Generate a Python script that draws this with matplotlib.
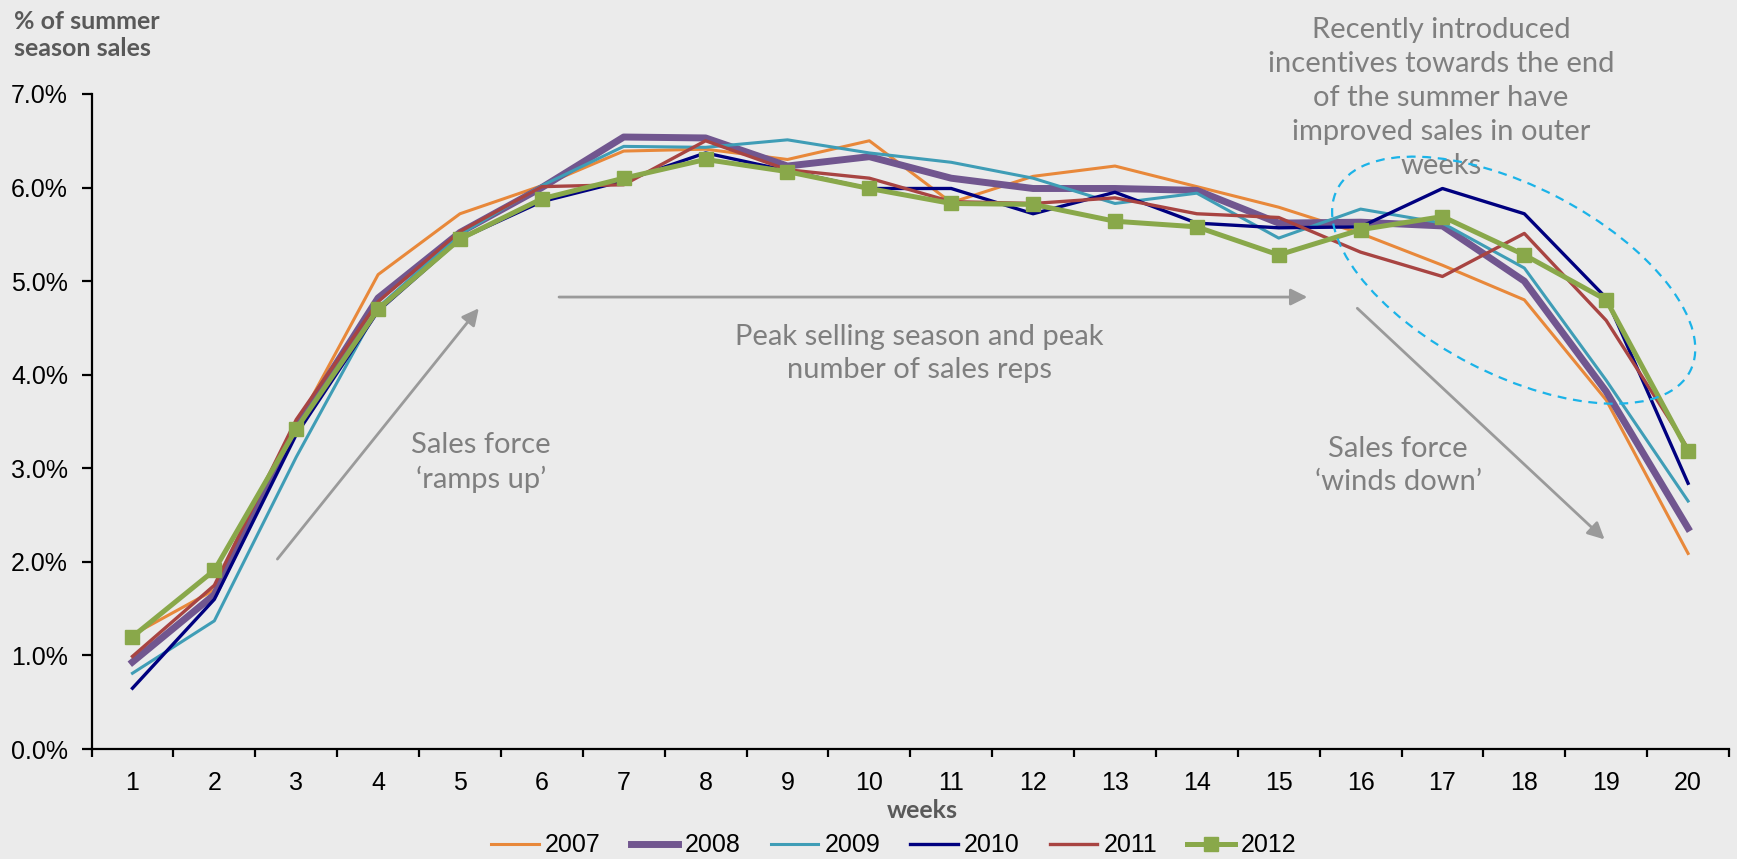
import matplotlib
matplotlib.use('Agg')
from matplotlib import pyplot as plt
from matplotlib import transforms
from matplotlib.patches import Ellipse
from matplotlib.ticker import FixedLocator, FuncFormatter

# share of summer season sales per week, in %
weeks = list(range(1, 21))
sales_2007 = [1.22, 1.70, 3.45, 5.07, 5.72, 6.02, 6.39, 6.41, 6.30, 6.50, 5.84, 6.12, 6.23, 6.01, 5.79, 5.51, 5.17, 4.80, 3.73, 2.09]
sales_2008 = [0.93, 1.65, 3.45, 4.82, 5.52, 6.00, 6.54, 6.53, 6.23, 6.33, 6.10, 5.99, 5.99, 5.97, 5.62, 5.63, 5.59, 5.00, 3.82, 2.36]
sales_2009 = [0.81, 1.37, 3.12, 4.72, 5.50, 6.02, 6.44, 6.43, 6.51, 6.37, 6.27, 6.10, 5.83, 5.94, 5.46, 5.77, 5.62, 5.14, 3.94, 2.65]
sales_2010 = [0.65, 1.60, 3.36, 4.68, 5.45, 5.85, 6.07, 6.37, 6.18, 5.99, 5.99, 5.72, 5.95, 5.62, 5.57, 5.58, 5.99, 5.72, 4.82, 2.84]
sales_2011 = [0.99, 1.75, 3.52, 4.78, 5.53, 6.01, 6.03, 6.50, 6.19, 6.10, 5.85, 5.83, 5.89, 5.72, 5.68, 5.31, 5.05, 5.51, 4.58, 3.21]
sales_2012 = [1.20, 1.91, 3.42, 4.70, 5.45, 5.88, 6.10, 6.30, 6.17, 5.99, 5.83, 5.82, 5.64, 5.58, 5.28, 5.55, 5.69, 5.28, 4.80, 3.18]

years = ['2007', '2008', '2009', '2010', '2011', '2012']
series = [sales_2007, sales_2008, sales_2009, sales_2010, sales_2011, sales_2012]
colors = ['#E8883A', '#71568F', '#3F9DB6', '#00007F', '#A84442', '#89A84A']
widths = [2.2, 5.0, 2.2, 2.4, 2.4, 3.6]

bg = '#EBEBEB'
note_grey = '#7F7F7F'
arrow_grey = '#9A9A9A'
note_font = ['Lato', 'DejaVu Sans']

fig = plt.figure(figsize=(17.37, 8.59), dpi=100, facecolor=bg)
ax = fig.add_axes([0.0527, 0.128, 0.9427, 0.7626], facecolor=bg)

for year, vals, c, lw in zip(years, series, colors, widths):
    if year == '2012':
        ax.plot(weeks, vals, color=c, lw=lw, marker='s', markersize=10, label=year, zorder=5)
    else:
        ax.plot(weeks, vals, color=c, lw=lw, label=year, zorder=3)

ax.set_xlim(0.5, 20.5)
ax.set_ylim(0, 7)

for s in ['top', 'right']:
    ax.spines[s].set_visible(False)
for s in ['left', 'bottom']:
    ax.spines[s].set_linewidth(1.6)

# excel style: ticks between categories, labels on them
ax.xaxis.set_major_locator(FixedLocator([w - 0.5 for w in weeks] + [20.5]))
ax.xaxis.set_minor_locator(FixedLocator(weeks))
ax.xaxis.set_major_formatter(FuncFormatter(lambda v, p: ''))
ax.xaxis.set_minor_formatter(FuncFormatter(lambda v, p: '%d' % v))
ax.tick_params(axis='x', which='major', length=6, width=1.6, direction='out')
ax.tick_params(axis='x', which='minor', length=0, pad=16, labelsize=18)
ax.set_yticks([0, 1, 2, 3, 4, 5, 6, 7])
ax.yaxis.set_major_formatter(FuncFormatter(lambda v, p: '%.1f%%' % v))
ax.tick_params(axis='y', length=7, width=1.6, pad=10, labelsize=18)
for lab in ax.get_xticklabels(minor=True) + ax.get_yticklabels():
    lab.set_fontfamily('Liberation Sans')

fig.text(0.008, 0.988, '% of summer\nseason sales', ha='left', va='top', fontsize=18,
         fontweight='bold', color='#595959', family=note_font, linespacing=1.2)
fig.text(0.531, 0.057, 'weeks', ha='center', va='center', fontsize=18,
         fontweight='bold', color='#595959', family=note_font)

leg = ax.legend(loc='center', bbox_to_anchor=(0.49, -0.147), ncol=6, frameon=False,
                fontsize=18, handlelength=1.9, handletextpad=0.25, columnspacing=1.2)
for t in leg.get_texts():
    t.set_fontfamily('Liberation Sans')

# annotations
arrow = dict(arrowstyle='-|>', color=arrow_grey, lw=2, mutation_scale=25, shrinkA=0, shrinkB=0)
ax.annotate('', xy=(5.23, 4.71), xytext=(2.77, 2.03), arrowprops=arrow)
ax.annotate('', xy=(15.35, 4.83), xytext=(6.21, 4.83), arrowprops=arrow)
ax.annotate('', xy=(18.98, 2.24), xytext=(15.96, 4.71), arrowprops=arrow)

note_size = 21
ax.text(5.26, 3.06, 'Sales force\n‘ramps up’', ha='center', va='center', fontsize=note_size,
        color=note_grey, family=note_font, linespacing=1.35)
ax.text(10.61, 4.23, 'Peak selling season and peak\nnumber of sales reps', ha='center', va='center',
        fontsize=note_size, color=note_grey, family=note_font, linespacing=1.35)
ax.text(16.46, 3.03, 'Sales force\n‘winds down’', ha='center', va='center', fontsize=note_size,
        color=note_grey, family=note_font, linespacing=1.35)
ax.text(16.98, 6.96, 'Recently introduced\nincentives towards the end\nof the summer have\nimproved sales in outer\nweeks',
        ha='center', va='center', fontsize=note_size, color=note_grey, family=note_font, linespacing=1.38, zorder=6)

ell_tr = fig.dpi_scale_trans + transforms.ScaledTranslation(17.87, 5.01, ax.transData)
ax.add_patch(Ellipse((0, 0), width=3.97, height=1.88, angle=-27.3, transform=ell_tr, fill=False,
                     edgecolor='#1BB3E8', lw=1.6, linestyle=(0, (4, 3)), clip_on=False, zorder=7))

fig.savefig('out.png', dpi=100, facecolor=bg)
